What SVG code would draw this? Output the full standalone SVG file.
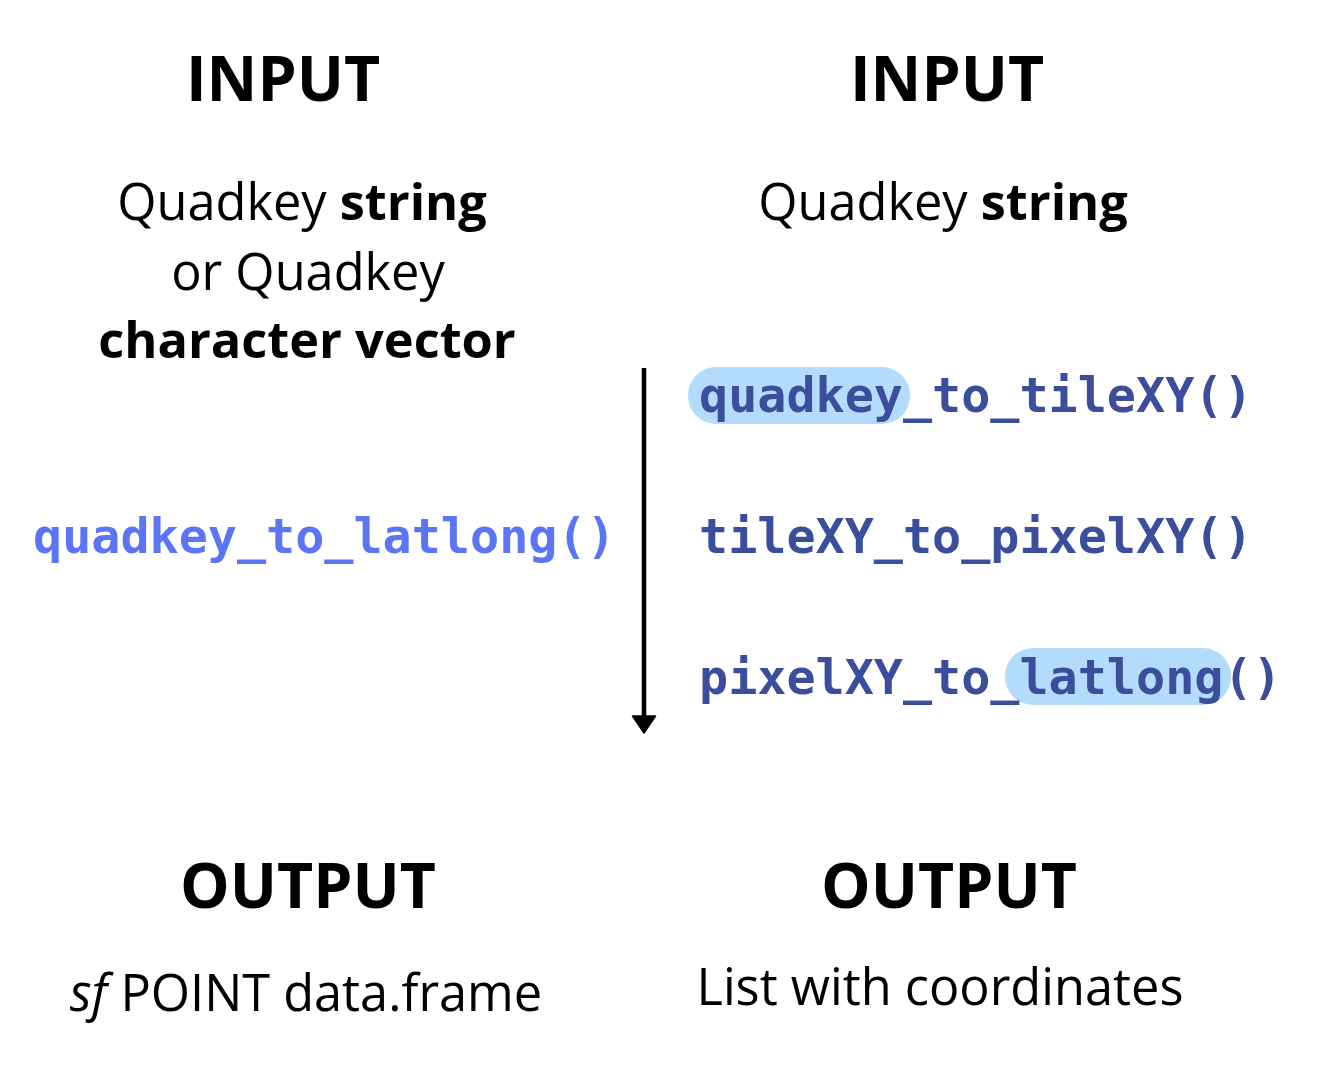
<svg xmlns="http://www.w3.org/2000/svg" width="1338" height="1092" viewBox="0 0 1338 1092">
<style>
.h{font-family:"Open Sans","Liberation Sans",sans-serif;font-weight:700;font-size:62.5px;fill:#000;text-anchor:middle}
.t{font-family:"Open Sans","Liberation Sans",sans-serif;font-size:50.5px;fill:#000;text-anchor:middle}
.b{font-weight:700}
.c{font-family:"DejaVu Sans Mono","Liberation Mono",monospace;font-weight:700;font-size:48.4px}
.cl{fill:#5b75f5}
.cr{fill:#3a4e9c}
.hl{fill:#b3dbfc}
</style>
<rect width="1338" height="1092" fill="#fff"/>
<g id="left-input">
<text class="h" x="283" y="101">INPUT</text>
<text class="t" x="302" y="220">Quadkey <tspan class="b">string</tspan></text>
<text class="t" x="308" y="290">or Quadkey</text>
<text class="t b" x="307" y="358">character vector</text>
</g>
<g id="right-input">
<text class="h" x="947" y="101">INPUT</text>
<text class="t" x="943" y="220">Quadkey <tspan class="b">string</tspan></text>
</g>
<g id="left-function">
<text class="c cl" x="33" y="553">quadkey_to_latlong()</text>
</g>
<g id="right-functions">
<rect class="hl" x="688" y="367" width="222" height="57" rx="28"/>
<rect class="hl" x="1005" y="648" width="226" height="57" rx="28"/>
<text class="c cr" x="699" y="412">quadkey_to_tileXY()</text>
<text class="c cr" x="699" y="553">tileXY_to_pixelXY()</text>
<text class="c cr" x="699" y="694">pixelXY_to_latlong()</text>
</g>
<g id="connectors">
<line x1="644" y1="368" x2="644" y2="720" stroke="#000" stroke-width="4.5"/>
<path d="M632.5,716 L655.5,716 L644,733 Z" fill="#000" stroke="#000" stroke-width="1.5" stroke-linejoin="round"/>
</g>
<g id="left-output">
<text class="h" x="308" y="908">OUTPUT</text>
<text class="t" x="306" y="1011"><tspan font-style="italic">sf</tspan> POINT data.frame</text>
</g>
<g id="right-output">
<text class="h" x="949" y="908">OUTPUT</text>
<text class="t" x="940" y="1005">List with coordinates</text>
</g>
</svg>
